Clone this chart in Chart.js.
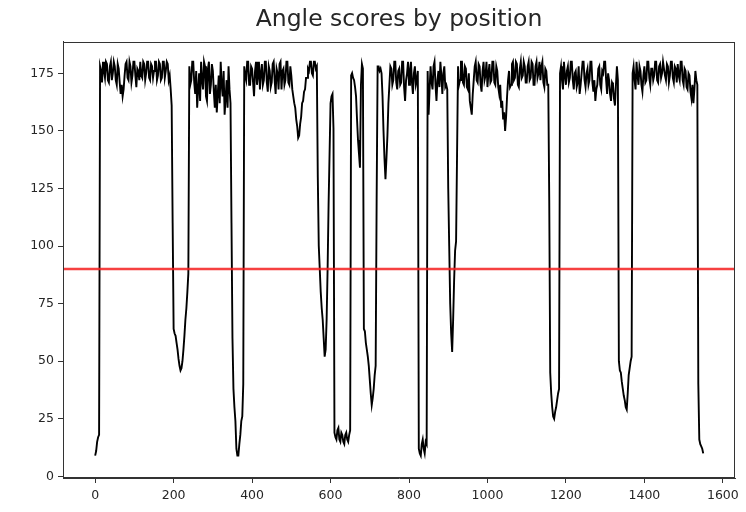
<!DOCTYPE html>
<html>
<head>
<meta charset="utf-8">
<title>Angle scores by position</title>
<script src="https://cdn.jsdelivr.net/npm/chart.js@4.4.0/dist/chart.umd.min.js"></script>
<style>
  html, body { margin: 0; padding: 0; background: #fff; }
  #angleChart { display: block; }
</style>
</head>
<body>
<canvas id="angleChart" width="746" height="512"></canvas>
<script>
// Positions are sampled every STEP residues (0, 2.5, 5 ... 1550)
const STEP = 2.5;

// Angle scores, one per STEP positions (20 per row = 50 positions)
const angleScores = [
  9, 11, 15, 17, 18, 178, 176, 171, 180, 176, 173, 180, 179, 172, 171, 178, 180, 172, 175, 180,         // 0
  178, 172, 170, 179, 177, 171, 166, 170, 165, 168, 174, 179, 180, 173, 172, 180, 178, 171, 174, 180,   // 50
  180, 174, 169, 177, 176, 172, 180, 174, 173, 180, 179, 172, 175, 180, 180, 173, 172, 179, 178, 173,   // 100
  176, 180, 180, 172, 174, 180, 179, 172, 173, 180, 180, 173, 176, 180, 179, 172, 174, 168, 161, 110,   // 150
  64, 62, 61, 58, 55, 51, 48, 46, 47, 50, 55, 61, 68, 73, 80, 88, 178, 170, 172, 180,                   // 200
  180, 171, 166, 176, 160, 168, 175, 163, 180, 172, 168, 180, 178, 165, 163, 177, 180, 166, 170, 179,   // 250
  176, 167, 160, 170, 158, 166, 174, 162, 180, 170, 165, 176, 157, 164, 172, 160, 178, 168, 162, 110,   // 300
  60, 38, 30, 24, 12, 9, 9, 14, 18, 24, 26, 40, 178, 174, 172, 180, 180, 170, 170, 178,                 // 350
  177, 171, 165, 176, 180, 170, 174, 180, 168, 175, 179, 170, 172, 180, 180, 171, 167, 178, 176, 169,   // 400
  171, 179, 180, 172, 166, 177, 175, 168, 179, 180, 168, 176, 177, 170, 172, 180, 180, 171, 170, 178,   // 450
  174, 168, 165, 162, 160, 155, 152, 147, 148, 153, 156, 162, 163, 167, 168, 173, 173, 177, 176, 180,   // 500
  180, 175, 174, 180, 180, 177, 178, 130, 100, 90, 80, 73, 68, 60, 52, 55, 68, 90, 118, 140,            // 550
  162, 165, 166, 151, 19, 17, 16, 20, 21, 16, 15, 19, 18, 15, 14, 18, 19, 16, 15, 18,                   // 600
  20, 174, 175, 173, 172, 169, 165, 155, 146, 140, 134, 170, 179, 177, 64, 63, 58, 55, 52, 48,          // 650
  42, 36, 31, 34, 38, 44, 48, 120, 178, 178, 176, 177, 175, 165, 150, 138, 129, 138, 148, 162,          // 700
  170, 178, 177, 170, 172, 180, 180, 171, 168, 176, 177, 170, 171, 180, 180, 169, 163, 172, 175, 180,   // 750
  170, 176, 180, 171, 166, 175, 178, 170, 172, 176, 12, 10, 9, 14, 16, 12, 10, 15, 14, 176,             // 800
  157, 168, 178, 171, 168, 178, 180, 170, 163, 172, 176, 169, 180, 174, 166, 175, 178, 169, 170, 168,   // 850
  125, 100, 75, 62, 54, 68, 85, 98, 102, 140, 178, 170, 172, 180, 180, 171, 170, 178, 177, 169,         // 900
  168, 175, 163, 160, 157, 166, 172, 178, 180, 172, 171, 179, 178, 170, 167, 176, 180, 172, 174, 180,   // 950
  169, 175, 179, 171, 172, 180, 180, 171, 170, 178, 176, 169, 166, 170, 160, 163, 155, 158, 150, 156,   // 1000
  165, 172, 176, 169, 170, 179, 180, 172, 173, 180, 179, 170, 169, 177, 180, 173, 174, 180, 178, 171,   // 1050
  171, 178, 180, 172, 173, 180, 179, 170, 170, 178, 180, 173, 175, 180, 172, 178, 180, 171, 169, 177,   // 1100
  176, 170, 170, 120, 45, 36, 30, 26, 25, 28, 30, 33, 36, 38, 175, 178, 172, 168, 180, 174,             // 1150
  170, 176, 178, 171, 173, 180, 180, 172, 168, 175, 176, 169, 171, 178, 166, 170, 175, 180, 180, 172,   // 1200
  169, 175, 177, 170, 172, 180, 180, 171, 167, 172, 163, 168, 170, 177, 178, 170, 168, 176, 175, 180,   // 1250
  180, 172, 166, 175, 172, 166, 163, 171, 170, 164, 161, 170, 178, 172, 50, 46, 45, 41, 38, 35,         // 1300
  33, 30, 29, 36, 44, 47, 50, 52, 175, 178, 172, 168, 180, 174, 170, 178, 176, 170, 167, 174,           // 1350
  178, 171, 172, 180, 180, 173, 170, 177, 177, 172, 174, 180, 180, 172, 171, 178, 179, 173, 175, 180,   // 1400
  180, 174, 172, 179, 178, 171, 174, 180, 180, 173, 171, 178, 177, 171, 179, 174, 172, 180, 180, 172,   // 1450
  170, 177, 176, 169, 168, 175, 174, 167, 164, 170, 162, 168, 176, 172, 170, 40, 16, 14, 13, 12,        // 1500
  10                                                                                                    // 1550
];

// Horizontal reference line
const THRESHOLD = 90;

// Tick labels
const xTickLabels = [0, 200, 400, 600, 800, 1000, 1200, 1400, 1600];
const yTickLabels = [0, 25, 50, 75, 100, 125, 150, 175];

const chartTitle = 'Angle scores by position';

// Axis limits (matplotlib style margins)
const xMin = -82, xMax = 1631;
const yMin = -0.7, yMax = 188.7;

const axisColor = '#333';
const textColor = '#262626';

Chart.defaults.font.family = "'DejaVu Sans', sans-serif";
Chart.defaults.color = textColor;

// Draw the full box around the plot like matplotlib spines,
// and the title centred over the plot area (not the canvas)
const framePlugin = {
  id: 'frame',
  afterDraw(chart) {
    const a = chart.chartArea;
    const ctx = chart.ctx;
    const l = Math.round(a.left) + 0.5, t = Math.round(a.top) + 0.5;
    const r = Math.round(a.right) - 0.5, b = Math.round(a.bottom) - 0.5;
    ctx.save();
    ctx.strokeStyle = axisColor;
    ctx.lineWidth = 1;
    ctx.strokeRect(l, t, r - l, b - t);

    ctx.fillStyle = textColor;
    ctx.font = "23.5px 'DejaVu Sans', sans-serif";
    ctx.textAlign = 'center';
    ctx.textBaseline = 'middle';
    ctx.fillText(chartTitle, (a.left + a.right) / 2, 20);
    ctx.restore();
  }
};

const scorePoints = angleScores.map((s, i) => ({ x: i * STEP, y: s }));

const config = {
  type: 'line',
  data: {
    datasets: [{
      label: 'Threshold',
      data: [{ x: xMin, y: THRESHOLD }, { x: xMax, y: THRESHOLD }],
      borderColor: 'rgba(245, 30, 30, 0.85)',
      borderWidth: 2.4,
      pointRadius: 0,
      order: 0
    }, {
      label: 'Angle score',
      data: scorePoints,
      borderColor: '#000',
      borderWidth: 1.9,
      pointRadius: 0,
      tension: 0,
      order: 1
    }]
  },
  options: {
    responsive: false,
    animation: false,
    layout: {
      padding: { top: 41.7, right: 11, bottom: 0, left: 0 }
    },
    plugins: {
      legend: { display: false },
      tooltip: { enabled: false },
      title: { display: false }
    },
    scales: {
      x: {
        type: 'linear',
        min: xMin,
        max: xMax,
        afterFit: function(scale) { scale.height = 34; },
        afterBuildTicks: function(scale) {
          scale.ticks = xTickLabels.map(v => ({ value: v }));
        },
        grid: {
          display: true,
          drawOnChartArea: false,
          drawTicks: true,
          tickLength: 5,
          color: axisColor
        },
        border: { display: true, color: axisColor, width: 1 },
        ticks: {
          padding: 5,
          maxRotation: 0,
          font: { size: 12.5 },
          color: textColor,
          callback: function(value) { return String(value); }
        }
      },
      y: {
        type: 'linear',
        min: yMin,
        max: yMax,
        afterFit: function(scale) { scale.width = 63; },
        afterBuildTicks: function(scale) {
          scale.ticks = yTickLabels.map(v => ({ value: v }));
        },
        grid: {
          display: true,
          drawOnChartArea: false,
          drawTicks: true,
          tickLength: 5,
          color: axisColor
        },
        border: { display: true, color: axisColor, width: 1 },
        ticks: {
          padding: 4,
          font: { size: 12.5 },
          color: textColor,
          callback: function(value) { return String(value); }
        }
      }
    }
  },
  plugins: [framePlugin]
};

const angleChart = new Chart(document.getElementById('angleChart'), config);
</script>
</body>
</html>
